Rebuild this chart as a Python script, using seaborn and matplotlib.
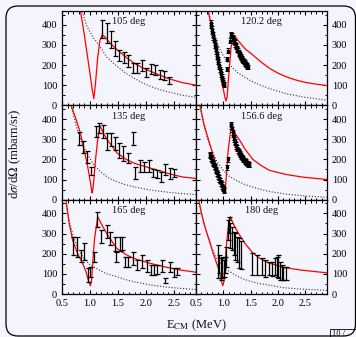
import numpy as np
import pandas as pd
import matplotlib
matplotlib.use("Agg")
import matplotlib.pyplot as plt
import seaborn as sns
from matplotlib.patches import FancyBboxPatch, Rectangle
from matplotlib.transforms import IdentityTransform
from matplotlib.ticker import MultipleLocator

# ---------------- data ----------------
angles = ["105 deg", "120.2 deg", "135 deg", "156.6 deg", "165 deg", "180 deg"]

# 105 deg
e105 = [1.22, 1.30, 1.37, 1.45, 1.52, 1.61, 1.69, 1.77, 1.85, 1.93, 2.01, 2.09, 2.17, 2.25, 2.33, 2.41]
s105 = [378, 358, 327, 280, 247, 237, 220, 183, 183, 197, 162, 178, 175, 153, 147, 125]
d105 = [46, 50, 43, 37, 29, 29, 29, 25, 25, 29, 23, 25, 25, 21, 21, 17]
fit105_e = [0.83, 0.90, 0.95, 1.00, 1.04, 1.07, 1.10, 1.14, 1.18, 1.22, 1.27, 1.35, 1.49, 1.65, 1.80, 1.95, 2.10, 2.25, 2.40, 2.65, 2.90]
fit105_s = [470, 350, 255, 160, 80, 33, 110, 240, 322, 350, 340, 312, 275, 238, 208, 185, 167, 150, 133, 113, 100]
ruth105_e = [0.86, 0.95, 1.05, 1.16, 1.30, 1.49, 1.65, 1.80, 1.95, 2.10, 2.25, 2.40, 2.65, 2.90]
ruth105_s = [465, 390, 340, 300, 240, 192, 158, 133, 110, 92, 78, 67, 50, 40]

# 120.2 deg
e120 = [0.77, 0.78, 0.79, 0.80, 0.81, 0.82, 0.83, 0.84, 0.85, 0.86, 0.87, 0.88, 0.89, 0.90,
        0.91, 0.92, 0.93, 0.94, 0.95, 0.96, 0.97, 0.98, 0.99, 1.00, 1.01, 1.02,
        1.07, 1.07, 1.08, 1.12,
        1.14, 1.15, 1.16, 1.17, 1.18, 1.19, 1.20, 1.21, 1.22, 1.23, 1.24, 1.25, 1.26, 1.27,
        1.28, 1.29, 1.30, 1.31, 1.32, 1.33, 1.34, 1.35, 1.36, 1.37, 1.38, 1.39, 1.40, 1.41,
        1.42, 1.43, 1.44, 1.45]
s120 = [410, 395, 380, 366, 352, 338, 324, 310, 296, 282, 268, 255, 242, 228,
        215, 202, 190, 178, 166, 154, 143, 132, 122, 113, 106, 102,
        180, 230, 270, 320,
        345, 350, 345, 338, 330, 322, 315, 310, 303, 296, 290, 283, 276, 270,
        264, 258, 252, 247, 242, 237, 232, 228, 224, 220, 216, 212, 208, 204,
        200, 197, 194, 190]
fit120_e = [0.72, 0.80, 0.88, 0.95, 1.00, 1.03, 1.05, 1.07, 1.10, 1.14, 1.18, 1.22, 1.30, 1.40, 1.54, 1.70, 1.85, 2.00, 2.15, 2.30, 2.45, 2.65, 2.90]
fit120_s = [470, 370, 240, 150, 80, 40, 22, 40, 150, 280, 350, 340, 312, 280, 250, 213, 183, 160, 142, 128, 117, 107, 98]
ruth120_e = [0.73, 0.80, 0.88, 0.95, 1.03, 1.12, 1.24, 1.40, 1.54, 1.70, 1.85, 2.00, 2.15, 2.45, 2.90]
ruth120_s = [470, 385, 315, 270, 233, 200, 167, 138, 117, 98, 83, 70, 58, 42, 25]

# 135 deg
e135 = [0.81, 0.87, 0.95, 1.02, 1.10, 1.16, 1.23, 1.30, 1.37, 1.45, 1.52, 1.60, 1.69, 1.77,
        1.81, 1.90, 1.97, 2.05, 2.13, 2.20, 2.28, 2.35, 2.43, 2.50]
s135 = [305, 260, 210, 143, 338, 355, 338, 288, 297, 280, 243, 227, 205, 305,
        133, 168, 163, 168, 133, 127, 113, 150, 130, 133]
d135 = [33, 29, 29, 21, 25, 25, 33, 42, 33, 33, 37, 37, 25, 33,
        29, 29, 25, 29, 21, 21, 25, 29, 25, 21]
fit135_e = [0.66, 0.75, 0.83, 0.90, 0.95, 1.00, 1.03, 1.04, 1.06, 1.10, 1.14, 1.18, 1.24, 1.31, 1.49, 1.65, 1.80, 2.10, 2.40, 2.65, 2.90]
fit135_s = [470, 400, 330, 240, 180, 100, 50, 33, 65, 197, 300, 367, 330, 297, 230, 200, 180, 155, 130, 113, 105]
ruth135_e = [0.66, 0.75, 0.85, 0.95, 1.05, 1.19, 1.35, 1.49, 1.65, 1.80, 2.10, 2.40, 2.65, 2.90]
ruth135_s = [470, 370, 285, 230, 180, 138, 105, 88, 73, 63, 47, 37, 30, 25]

# 156.6 deg
e156 = [0.75, 0.76, 0.77, 0.78, 0.79, 0.80, 0.81, 0.82, 0.83, 0.84, 0.85, 0.86, 0.87, 0.88,
        0.89, 0.90, 0.91, 0.92, 0.93, 0.94, 0.95, 0.96, 0.97, 0.98, 0.99, 1.00, 1.01, 1.02,
        1.07, 1.08,
        1.14, 1.15, 1.16, 1.17, 1.18, 1.19, 1.20, 1.21, 1.22, 1.23, 1.24, 1.25, 1.26, 1.27,
        1.28, 1.29, 1.30, 1.31, 1.32, 1.33, 1.34, 1.35, 1.36, 1.37, 1.38, 1.39, 1.40, 1.41,
        1.42, 1.43, 1.44, 1.45, 1.46, 1.47, 1.48]
s156 = [225, 218, 212, 205, 198, 192, 185, 178, 172, 165, 158, 151, 144, 137,
        130, 123, 116, 109, 102, 95, 88, 81, 74, 67, 60, 55, 50, 47,
        160, 200,
        375, 365, 350, 335, 322, 310, 300, 290, 281, 272, 265, 258, 251, 245,
        240, 234, 229, 224, 220, 216, 212, 208, 204, 200, 197, 194, 191, 188,
        185, 182, 180, 178, 176, 174, 172]
fit156_e = [0.57, 0.65, 0.75, 0.88, 0.95, 1.00, 1.02, 1.04, 1.09, 1.15, 1.20, 1.30, 1.40, 1.54, 1.70, 1.85, 2.15, 2.45, 2.90]
fit156_s = [470, 370, 278, 163, 100, 60, 45, 60, 247, 375, 335, 295, 250, 200, 168, 145, 125, 112, 100]
ruth156_e = [0.57, 0.65, 0.75, 0.88, 1.00, 1.10, 1.24, 1.40, 1.54, 1.70, 1.85, 2.15, 2.50, 2.90]
ruth156_s = [470, 360, 270, 190, 145, 118, 95, 75, 62, 50, 40, 28, 18, 12]

# 165 deg
e165 = [0.70, 0.77, 0.84, 0.90, 0.96, 1.01, 1.07, 1.13, 1.20, 1.31, 1.36, 1.45, 1.46, 1.54,
        1.58, 1.63, 1.69, 1.77, 1.85, 1.93, 2.02, 2.09, 2.15, 2.21, 2.29, 2.35, 2.44, 2.51, 2.56]
s165 = [238, 235, 188, 210, 94, 111, 185, 370, 284, 309, 276, 248, 185, 248,
        251, 160, 160, 177, 144, 160, 139, 119, 119, 122, 139, 66, 136, 106, 111]
d165 = [45, 50, 29, 41, 33, 25, 25, 37, 33, 33, 33, 37, 25, 37,
        33, 25, 25, 33, 25, 33, 29, 25, 25, 21, 29, 12, 25, 21, 17]
fit165_e = [0.57, 0.63, 0.69, 0.78, 0.87, 0.93, 0.98, 1.01, 1.03, 1.08, 1.14, 1.20, 1.30, 1.48, 1.65, 1.78, 2.08, 2.38, 2.62, 2.90]
fit165_s = [466, 350, 268, 200, 152, 110, 60, 41, 70, 268, 383, 350, 300, 226, 195, 177, 152, 132, 119, 108]
ruth165_e = [0.56, 0.63, 0.70, 0.78, 0.87, 1.00, 1.17, 1.30, 1.48, 1.63, 1.78, 2.08, 2.35, 2.62, 2.90]
ruth165_s = [466, 360, 290, 230, 185, 145, 119, 100, 86, 72, 61, 45, 35, 28, 22]

# 180 deg
e180 = [0.91, 0.93, 0.96, 0.98, 1.01, 1.03, 1.05, 1.08, 1.11, 1.13, 1.16, 1.19, 1.22, 1.25,
        1.28, 1.33, 1.53, 1.61, 1.70, 1.76, 1.83, 1.89, 1.95, 1.98, 2.01, 2.04, 2.07, 2.10, 2.15]
s180 = [160, 149, 124, 132, 127, 144, 185, 317, 342, 289, 276, 251, 235, 221,
        202, 193, 149, 144, 136, 127, 127, 124, 136, 136, 136, 116, 107, 102, 102]
d180 = [83, 45, 54, 54, 41, 41, 50, 50, 41, 62, 58, 58, 66, 62,
        74, 70, 54, 50, 41, 41, 33, 37, 41, 50, 58, 45, 37, 33, 33]
fit180_e = [0.55, 0.60, 0.65, 0.74, 0.83, 0.92, 0.96, 0.99, 1.01, 1.05, 1.09, 1.13, 1.18, 1.28, 1.40, 1.52, 1.65, 1.82, 2.11, 2.41, 2.90]
fit180_s = [466, 400, 345, 268, 190, 119, 70, 41, 60, 218, 330, 383, 350, 300, 250, 210, 180, 155, 132, 119, 105]
ruth180_e = [0.55, 0.62, 0.70, 0.78, 0.86, 0.97, 1.07, 1.22, 1.35, 1.52, 1.65, 1.82, 2.11, 2.45, 2.90]
ruth180_s = [466, 380, 300, 235, 185, 145, 119, 94, 76, 61, 52, 45, 31, 24, 18]

x_ticks = [0.5, 1.0, 1.5, 2.0, 2.5]
x_ticklabels = ["0.5", "1.0", "1.5", "2.0", "2.5"]
y_ticks = [0, 100, 200, 300, 400]

panels = [
    dict(e=e105, s=s105, d=d105, fe=fit105_e, fs=fit105_s, re=ruth105_e, rs=ruth105_s, dense=False),
    dict(e=e120, s=s120, d=None, fe=fit120_e, fs=fit120_s, re=ruth120_e, rs=ruth120_s, dense=True),
    dict(e=e135, s=s135, d=d135, fe=fit135_e, fs=fit135_s, re=ruth135_e, rs=ruth135_s, dense=False),
    dict(e=e156, s=s156, d=None, fe=fit156_e, fs=fit156_s, re=ruth156_e, rs=ruth156_s, dense=True),
    dict(e=e165, s=s165, d=d165, fe=fit165_e, fs=fit165_s, re=ruth165_e, rs=ruth165_s, dense=False),
    dict(e=e180, s=s180, d=d180, fe=fit180_e, fs=fit180_s, re=ruth180_e, rs=ruth180_s, dense=False),
]

# ---------------- style ----------------
BG = "#f4f4fc"
sns.set_theme(style="ticks")
plt.rcParams["font.family"] = ["Liberation Serif", "DejaVu Serif"]
plt.rcParams["mathtext.fontset"] = "stix"
plt.rcParams["axes.linewidth"] = 0.9

W, H = 356, 337
fig = plt.figure(figsize=(W / 100, H / 100), dpi=100, facecolor=BG)

col_x = [(62, 134), (196, 131)]
top, bottom = 11, 294
rh = (bottom - top) / 3.0

for i, p in enumerate(panels):
    row, col = divmod(i, 2)
    x0, w = col_x[col]
    y_top = top + row * rh
    ax = fig.add_axes([x0 / W, 1 - (y_top + rh) / H, w / W, rh / H])
    ax.set_facecolor(BG)

    fit = pd.DataFrame({"E": p["fe"], "xs": p["fs"]})
    ruth = pd.DataFrame({"E": p["re"], "xs": p["rs"]})
    sns.lineplot(data=ruth, x="E", y="xs", ax=ax, color="#333333", lw=0.8,
                 linestyle=(0, (1, 1.6)), estimator=None, sort=False, legend=False)
    sns.lineplot(data=fit, x="E", y="xs", ax=ax, color="red", lw=0.9,
                 estimator=None, sort=False, legend=False)

    if p["dense"]:
        ax.errorbar(p["e"], p["s"], yerr=12, fmt="s", ms=1.6, color="black",
                    ecolor="black", elinewidth=0.7, capsize=1.2, capthick=0.7, zorder=3)
    else:
        ax.errorbar(p["e"], p["s"], yerr=p["d"], fmt="none", ecolor="black",
                    elinewidth=0.9, capsize=1.8, capthick=0.9, zorder=3)

    ax.set_xlim(0.5, 2.9)
    ax.set_ylim(0, 468)
    ax.set_xticks(x_ticks)
    ax.set_yticks(y_ticks)
    ax.xaxis.set_minor_locator(MultipleLocator(0.1))
    ax.yaxis.set_minor_locator(MultipleLocator(50))
    ax.tick_params(which="both", direction="in", top=True, right=True, left=True,
                   bottom=True, colors="black", labelsize=7.5, pad=3.5)
    ax.tick_params(which="major", length=3.2, width=0.8)
    ax.tick_params(which="minor", length=1.8, width=0.7)
    if row == 2:
        ax.set_xticklabels(x_ticklabels)
    else:
        ax.set_xticklabels([])
    if col == 1:
        ax.tick_params(labelleft=False, labelright=True)
    ax.set_xlabel("")
    ax.set_ylabel("")
    for sp in ax.spines.values():
        sp.set_color("black")
        sp.set_linewidth(0.9)
    ax.text(0.5, 0.885, angles[i], transform=ax.transAxes, ha="center", va="center",
            fontsize=7.5, color="#111111")

fig.text(15.5 / W, 1 - 153.5 / H, r"d$\sigma$/d$\Omega$ (mbarn/sr)", rotation=90,
         ha="center", va="center", fontsize=9.2, color="#111111")
fig.text(196 / W, 1 - 325 / H, r"E$_{\rm CM}$ (MeV)", ha="center", va="center",
         fontsize=9, color="#111111")

# rounded frame
frame = FancyBboxPatch((6, 1), 349.5, 330, boxstyle="round,pad=0,rounding_size=12",
                       transform=IdentityTransform(), fill=False, edgecolor="black",
                       linewidth=0.9, figure=fig)
fig.patches.append(frame)
box = Rectangle((330, -5), 40, 13, transform=IdentityTransform(), fill=False,
                edgecolor="black", linewidth=0.6, figure=fig)
fig.patches.append(box)
fig.text(332 / W, 1 - 330 / H, "10 /", ha="left", va="top", fontsize=6, color="#111111")

fig.savefig("out.png", dpi=100, facecolor=BG)
